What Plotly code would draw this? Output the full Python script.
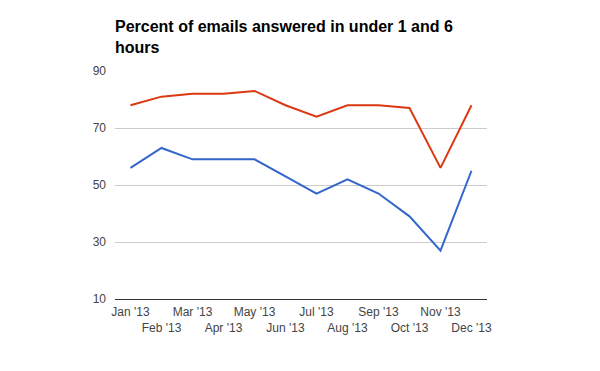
import plotly.graph_objects as go

months = ["Jan '13", "Feb '13", "Mar '13", "Apr '13", "May '13", "Jun '13",
          "Jul '13", "Aug '13", "Sep '13", "Oct '13", "Nov '13", "Dec '13"]
under_6_hours = [78, 81, 82, 82, 83, 78, 74, 78, 78, 77, 56, 78]
under_1_hour = [56, 63, 59, 59, 59, 53, 47, 52, 47, 39, 27, 55]
y_ticks = [10, 30, 50, 70, 90]

tick_text = [m if i % 2 == 0 else "<br>" + m for i, m in enumerate(months)]

fig = go.Figure()
fig.add_trace(go.Scatter(x=months, y=under_6_hours, mode="lines", name="Under 6 hours",
                         line=dict(color="#dc3912", width=2)))
fig.add_trace(go.Scatter(x=months, y=under_1_hour, mode="lines", name="Under 1 hour",
                         line=dict(color="#3366cc", width=2)))

fig.update_layout(
    width=600, height=371,
    margin=dict(l=107, r=121, t=63, b=80),
    paper_bgcolor="white", plot_bgcolor="white",
    showlegend=False,
    font=dict(family="Liberation Sans, Arial, sans-serif", size=12, color="#444"),
    title=dict(text="Percent of emails answered in under 1 and 6<br>hours",
               x=107/600, xanchor="left", xref="container",
               y=1-24/371, yanchor="top", yref="container",
               font=dict(family="Liberation Sans, Arial, sans-serif", size=16, color="black",
                         weight="bold")),
    xaxis=dict(type="category", tickmode="array", tickvals=months, ticktext=tick_text,
               range=[-0.5, 11.5], showgrid=False, showline=True, linecolor="#333",
               linewidth=1, ticks="", zeroline=False, tickangle=0, ticklabelstandoff=2),
    yaxis=dict(range=[10, 90], tickvals=y_ticks, showgrid=True, gridcolor="#ccc",
               zeroline=False, showline=False, ticks="", ticklabelstandoff=8),
)

fig.write_html("out.html")
